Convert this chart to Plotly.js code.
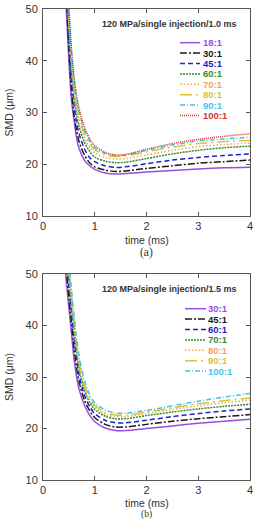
<!DOCTYPE html>
<html>
<head>
<meta charset="utf-8">
<script src="https://cdn.plot.ly/plotly-3.0.1.min.js"></script>
<style>
  html, body { margin: 0; padding: 0; background: #fff; }
  #chart { width: 254px; height: 521px; }
</style>
</head>
<body>
<div id="chart"></div>
<script>
// Time after start of injection (ms)
const time = [0.4, 0.45, 0.5, 0.55, 0.6, 0.65, 0.7, 0.8, 0.9, 1.0, 1.2, 1.4, 1.6, 2.0, 2.5, 3.0, 3.5, 4.0];

// (a) 120 MPa, single injection, 1.0 ms — SMD (µm) per ratio
const labelsA = ['18:1', '30:1', '45:1', '60:1', '70:1', '80:1', '90:1', '100:1'];
const smdA_18  = [60, 50, 40, 32.5, 28.5, 25.0, 23.0, 20.8, 19.7, 19.0, 18.3, 18.1, 18.2, 18.5, 18.8, 19.1, 19.3, 19.4];
const smdA_30  = [63, 53, 42.5, 34.5, 29.5, 26.5, 24.3, 21.8, 20.3, 19.5, 18.9, 18.6, 18.7, 19.2, 19.7, 20.2, 20.5, 20.8];
const smdA_45  = [66, 55, 44.5, 36.5, 31.5, 28.0, 25.8, 23.0, 21.3, 20.5, 19.7, 19.4, 19.5, 20.1, 20.8, 21.3, 21.7, 22.0];
const smdA_60  = [68, 57, 46.5, 38.5, 33.0, 29.5, 27.2, 24.3, 22.5, 21.4, 20.6, 20.3, 20.4, 21.1, 22.0, 22.7, 23.2, 23.5];
const smdA_70  = [69, 58, 47.5, 39.5, 34.3, 30.8, 28.3, 25.2, 23.3, 22.2, 21.3, 21.0, 21.1, 21.8, 22.7, 23.4, 23.8, 24.1];
const smdA_80  = [70, 59, 48.5, 40.5, 35.3, 31.7, 29.2, 26.0, 24.0, 22.8, 21.8, 21.5, 21.6, 22.4, 23.3, 24.0, 24.4, 24.6];
const smdA_90  = [71, 60, 49.5, 41.5, 36.2, 32.5, 30.0, 26.6, 24.5, 23.2, 22.1, 21.7, 21.8, 22.7, 23.7, 24.5, 24.9, 25.2];
const smdA_100 = [72, 61, 50.5, 42.5, 37.0, 33.3, 30.7, 27.2, 25.0, 23.6, 22.3, 21.8, 21.9, 22.9, 24.0, 24.8, 25.4, 25.9];

// (b) 120 MPa, single injection, 1.5 ms — SMD (µm) per ratio
const labelsB = ['30:1', '45:1', '60:1', '70:1', '80:1', '90:1', '100:1'];
const smdB_30  = [54, 48.5, 43.5, 38.5, 33.5, 30.0, 27.5, 24.5, 22.6, 21.3, 20.1, 19.6, 19.6, 20.0, 20.5, 21.0, 21.4, 21.8];
const smdB_45  = [57, 51, 45.5, 40.5, 35.5, 31.7, 29.0, 25.5, 23.5, 22.1, 20.8, 20.3, 20.3, 20.8, 21.4, 21.9, 22.3, 22.7];
const smdB_60  = [59, 53, 47.5, 42.5, 37.5, 33.3, 30.3, 26.5, 24.3, 22.9, 21.6, 21.1, 21.1, 21.6, 22.3, 22.9, 23.4, 23.8];
const smdB_70  = [61, 55, 49.5, 44, 39, 34.8, 31.5, 27.4, 25.1, 23.7, 22.4, 21.9, 21.9, 22.5, 23.2, 23.8, 24.3, 24.7];
const smdB_80  = [62, 56, 50.5, 45, 40, 35.7, 32.3, 28.0, 25.6, 24.1, 22.8, 22.3, 22.3, 22.9, 23.7, 24.4, 25.0, 25.5];
const smdB_90  = [63, 57, 51.5, 46, 41, 36.5, 33.0, 28.6, 26.0, 24.5, 23.1, 22.6, 22.6, 23.2, 24.0, 24.8, 25.4, 25.9];
const smdB_100 = [64, 58, 52.5, 47, 42, 37.5, 34.0, 29.4, 26.6, 25.0, 23.6, 23.0, 23.0, 23.5, 24.4, 25.3, 26.1, 26.8];

// Line style sequence (solid, dash-dot, dash, short dash, dot, long dash-dot, dash-dot, fine dot)
const styleSeq = [
  {color: '#9a4ee0', dash: 'solid'},
  {color: '#1a1a1a', dash: '7px,2px,2px,2px'},
  {color: '#2222c8', dash: '5px,3px'},
  {color: '#2f8f2f', dash: '2px,1px'},
  {color: '#f2a55a', dash: '1.5px,2px'},
  {color: '#dcc236', dash: '12px,4px,2px,4px'},
  {color: '#3cc6ec', dash: '5px,2px,1px,2px'},
  {color: '#d8322e', dash: '1px,1px'}
];

const seriesA = [smdA_18, smdA_30, smdA_45, smdA_60, smdA_70, smdA_80, smdA_90, smdA_100];
const seriesB = [smdB_30, smdB_45, smdB_60, smdB_70, smdB_80, smdB_90, smdB_100];

const H = 521, W = 254, ML = 43, MR = 4;
const PW = W - ML - MR;
const fy = px => 1 - px / H;          // pixel row -> paper y
const fx = px => (px - ML) / PW;      // pixel column -> paper x

const sans = 'Liberation Sans, Arial, sans-serif';
const serif = 'Liberation Serif, Times New Roman, serif';
const traces = [];
labelsA.forEach((lab, i) => {
  const s = styleSeq[i];
  traces.push({
    x: time, y: seriesA[i], type: 'scatter', mode: 'lines', name: lab,
    line: {color: s.color, dash: s.dash, width: 1.5, shape: 'spline', smoothing: 0.8},
    xaxis: 'x', yaxis: 'y'
  });
});
labelsB.forEach((lab, i) => {
  const s = styleSeq[i];
  traces.push({
    x: time, y: seriesB[i], type: 'scatter', mode: 'lines', name: lab,
    line: {color: s.color, dash: s.dash, width: 1.5, shape: 'spline', smoothing: 0.8},
    xaxis: 'x2', yaxis: 'y2'
  });
});

const axisFont = {family: sans, size: 11, color: '#333'};
function xAxis(anchor) {
  return {
    anchor: anchor, range: [0, 4], tickvals: [0, 1, 2, 3, 4],
    ticks: 'inside', ticklen: 4, tickcolor: '#555', mirror: 'ticks',
    showline: true, linecolor: '#555', linewidth: 1, showgrid: false, zeroline: false,
    tickfont: axisFont
  };
}
function yAxis(anchor, domain) {
  return {
    anchor: anchor, domain: domain, range: [10, 50], tickvals: [10, 20, 30, 40, 50],
    ticks: 'inside', ticklen: 4, tickcolor: '#555', mirror: 'ticks',
    showline: true, linecolor: '#555', linewidth: 1, showgrid: false, zeroline: false,
    tickfont: axisFont, ticklabelstandoff: 2,
    title: {text: 'SMD (μm)', font: {family: sans, size: 10.5, color: '#333'}, standoff: 9}
  };
}

// Compact in-plot legend: a short line sample followed by a coloured bold label
const shapes = [];
const annotations = [];
function addLegend(labels, topPx, stepPx, lineX0, lineX1, textX) {
  labels.forEach((lab, i) => {
    const s = styleSeq[i];
    const yPx = topPx + i * stepPx;
    shapes.push({
      type: 'line', xref: 'paper', yref: 'paper',
      x0: fx(lineX0), x1: fx(lineX1), y0: fy(yPx), y1: fy(yPx),
      line: {color: s.color, dash: s.dash, width: 1.5}
    });
    annotations.push({
      xref: 'paper', yref: 'paper', x: fx(textX), y: fy(yPx),
      xanchor: 'left', yanchor: 'middle', showarrow: false,
      text: '<b>' + lab + '</b>', font: {family: sans, size: 9.5, color: s.color}
    });
  });
}
// Panel (b) sits a few pixels higher so its captions fit above the page edge
const B_SHIFT = -3;
addLegend(labelsA, 42.7, 10.4, 180, 200, 201);
addLegend(labelsB, 311.7 + B_SHIFT, 10.4, 185, 206, 206);

// Panel captions and axis titles below each plot
function caption(text, yPx, font, anchor) {
  annotations.push({xref: 'paper', yref: 'paper', x: 0.5, y: fy(yPx), xanchor: 'center', yanchor: anchor || 'middle',
    showarrow: false, borderpad: 0, text: text, font: font});
}
const xTitleFont = {family: sans, size: 10.5, color: '#333'};
caption('time (ms)', 239.5, xTitleFont);
caption('(a)', 253, {family: serif, size: 11.5, color: '#333'});
caption('time (ms)', 502.5, xTitleFont);
caption('(b)', 521, {family: serif, size: 9.5, color: '#333'}, 'bottom');

annotations.push(
  {xref: 'paper', yref: 'paper', x: fx(239), y: fy(24), xanchor: 'right', yanchor: 'middle', showarrow: false,
   text: '<b>120 MPa/single injection/1.0 ms</b>', font: {family: sans, size: 9, color: '#333'}},
  {xref: 'paper', yref: 'paper', x: fx(239), y: fy(292 + B_SHIFT), xanchor: 'right', yanchor: 'middle', showarrow: false,
   text: '<b>120 MPa/single injection/1.5 ms</b>', font: {family: sans, size: 9, color: '#333'}}
);

const layout = {
  width: W, height: H,
  margin: {l: ML, r: MR, t: 0, b: 0},
  paper_bgcolor: '#fff', plot_bgcolor: '#fff',
  showlegend: false,
  xaxis: xAxis('y'),
  yaxis: yAxis('x', [fy(216), fy(9)]),
  xaxis2: xAxis('y2'),
  yaxis2: yAxis('x2', [fy(483 + B_SHIFT), fy(277 + B_SHIFT)]),
  shapes: shapes,
  annotations: annotations
};

Plotly.newPlot('chart', traces, layout, {staticPlot: true, displayModeBar: false});
</script>
</body>
</html>
